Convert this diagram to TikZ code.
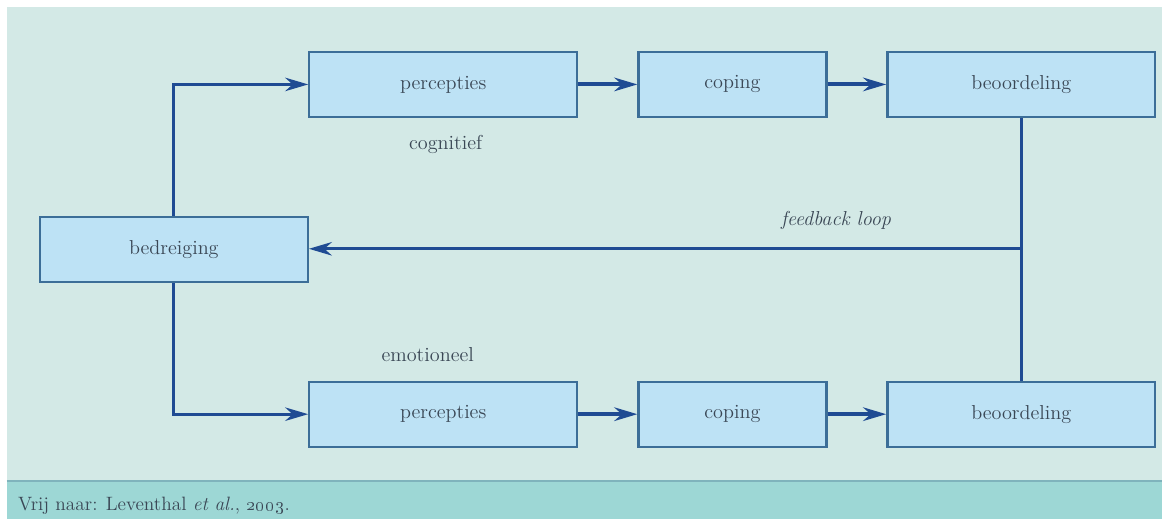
\documentclass[tikz,border=0pt]{standalone}
\usetikzlibrary{arrows.meta}
\definecolor{panelbg}{HTML}{D3E9E6}
\definecolor{bandbg}{HTML}{9DD7D5}
\definecolor{bandline}{HTML}{7FB3BC}
\definecolor{boxfill}{HTML}{BDE2F5}
\definecolor{boxline}{HTML}{3C6E98}
\definecolor{arrowblue}{HTML}{1F4B93}
\definecolor{txt}{HTML}{3A4755}
\begin{document}
\begin{tikzpicture}[
    x=0.02cm, y=-0.02cm,
    stap/.style={draw=boxline, line width=1.3pt, fill=boxfill, minimum width=5.36cm,
                minimum height=1.3cm, inner sep=0pt, text=txt, font=\fontsize{11.5}{14}\selectfont},
    lbl/.style={text=txt, font=\fontsize{11.5}{14}\selectfont},
    pijl/.style={-{Stealth[length=4.6mm, width=2.7mm]}, line width=2.2pt, arrowblue},
    tak/.style={-{Stealth[length=4.6mm, width=2.7mm]}, line width=1.6pt, arrowblue},
    lijn/.style={line width=1.6pt, arrowblue},
  ]
    % Background
    \fill[white] (0,0) rectangle (1163,519);
    \fill[panelbg] (7,7) rectangle (1163,481);
    \fill[bandbg] (7,481) rectangle (1163,519);
    \draw[bandline, line width=1pt] (7,481) -- (1163,481);
    \node[anchor=base west, text=txt, font=\fontsize{11}{13}\selectfont] (bron) at (12,511)
      {Vrij naar: Leventhal \textit{et al.}, \oldstylenums{2003}.};

    % Start
    \node[stap] (bedr) at (174,250) {bedreiging};

    % Cognitive row
    \node[stap] (cperc) at (443.5,84.5)  {percepties};
    \node[stap, minimum width=3.76cm] (ccop) at (733,84.5) {coping};
    \node[stap] (cbeo) at (1022,84.5)  {beoordeling};

    % Emotional row
    \node[stap] (eperc) at (443.5,414.5) {percepties};
    \node[stap, minimum width=3.76cm] (ecop) at (733,414.5) {coping};
    \node[stap] (ebeo) at (1022,414.5) {beoordeling};

    % Labels
    \node[lbl] (cog) at (446,145) {cognitief};
    \node[lbl] (emo) at (428,355) {emotioneel};

    % Connections
    \draw[tak] (bedr.north) |- (cperc.west);
    \draw[tak] (bedr.south) |- (eperc.west);
    \draw[pijl] (cperc) -- (ccop);
    \draw[pijl] (ccop) -- (cbeo);
    \draw[pijl] (eperc) -- (ecop);
    \draw[pijl] (ecop) -- (ebeo);

    % Feedback
    \coordinate (fb) at (1022,249);
    \draw[lijn] (cbeo.south) -- (ebeo.north);
    \draw[tak] (fb) -- node[lbl, above, pos=0.26, yshift=7pt, font=\fontsize{11.5}{14}\selectfont\itshape] (fbl) {feedback loop} (bedr.east |- fb);
  \end{tikzpicture}
\end{document}
